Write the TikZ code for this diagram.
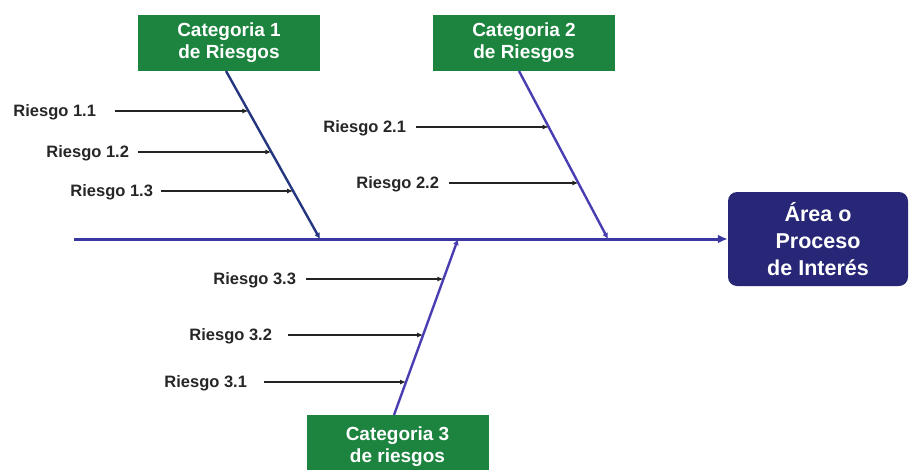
\documentclass[tikz,border=0pt]{standalone}
\usepackage{fontspec}
\setmainfont{Liberation Sans}
\usetikzlibrary{arrows.meta,calc}
\definecolor{catgreen}{RGB}{28,132,62}
\definecolor{navy}{RGB}{40,38,118}
\definecolor{spine}{RGB}{58,56,160}
\definecolor{diagA}{RGB}{36,54,128}
\definecolor{diagB}{RGB}{72,62,178}
\definecolor{riskline}{RGB}{35,35,35}
\tikzset{
  catbox/.style={fill=catgreen, draw=none, minimum width=182pt, minimum height=56pt, inner sep=0pt,
    text=white, font=\fontsize{19}{22}\selectfont\bfseries, align=center},
  areabox/.style={fill=navy, draw=none, rounded corners=9pt, minimum width=180pt, minimum height=94pt,
    inner sep=0pt, text=white, font=\fontsize{21.5}{27}\selectfont\bfseries, align=center},
  risk/.style={font=\fontsize{16.5}{18}\selectfont\bfseries, inner sep=0pt, outer sep=0pt, anchor=east,
    text=black!85, yshift=-1.7pt},
  riskarrow/.style={draw=riskline, line width=1.3pt, shorten <=10pt, -{Latex[length=6pt,width=5pt]}},
  bone/.style={line width=2.4pt, -{Latex[length=6pt,width=6pt]}},
}
\begin{document}
\begin{tikzpicture}[x=1pt,y=-1pt]
\useasboundingbox (0,0) rectangle (909,469);
\clip (0,0) rectangle (909,469);
% boxes
\node[catbox] (c1) at (229,43) {Categoria 1\\de Riesgos};
\node[catbox] (c2) at (524,43) {Categoria 2\\de Riesgos};
\node[catbox, minimum height=64pt] (c3) at (397.5,447) {Categoria 3\\de riesgos};
\node[areabox] (area) at (818,239) {Área o\\Proceso\\de Interés};
% spine
\coordinate (tail) at (74,239);
\coordinate (b1) at (320,239);
\coordinate (b2) at (608,239);
\coordinate (b3) at (458,239);
\coordinate (t1) at (226,71);
\coordinate (t2) at (519,71);
\coordinate (t3) at (394,415);
\draw[spine, line width=3pt, -{Latex[length=10pt,width=9pt]}] (tail) -- (area.west);
\draw[bone, diagA] (t1) -- (b1);
\draw[bone, diagB] (t2) -- (b2);
\draw[bone, diagB] (t3) -- (b3);
% points on bones
\coordinate (p11) at ($(t1)!{40/168}!(b1)$);
\coordinate (p12) at ($(t1)!{81/168}!(b1)$);
\coordinate (p13) at ($(t1)!{120/168}!(b1)$);
\coordinate (p21) at ($(t2)!{56/168}!(b2)$);
\coordinate (p22) at ($(t2)!{112/168}!(b2)$);
\coordinate (p33) at ($(t3)!{136/176}!(b3)$);
\coordinate (p32) at ($(t3)!{80/176}!(b3)$);
\coordinate (p31) at ($(t3)!{33/176}!(b3)$);
% risk labels
\node[risk] (r11) at (96,111) {Riesgo 1.1};
\node[risk] (r12) at (129,152) {Riesgo 1.2};
\node[risk] (r13) at (153,191) {Riesgo 1.3};
\node[risk] (r21) at (406,127) {Riesgo 2.1};
\node[risk] (r22) at (439,183) {Riesgo 2.2};
\node[risk] (r33) at (296,279) {Riesgo 3.3};
\node[risk] (r32) at (272,335) {Riesgo 3.2};
\node[risk] (r31) at (247,382) {Riesgo 3.1};
\draw[riskarrow, shorten <=19pt] (r11.east |- p11) -- (p11);
\draw[riskarrow, shorten <=9pt] (r12.east |- p12) -- (p12);
\draw[riskarrow, shorten <=8pt] (r13.east |- p13) -- (p13);
\draw[riskarrow] (r21.east |- p21) -- (p21);
\draw[riskarrow] (r22.east |- p22) -- (p22);
\draw[riskarrow] (r33.east |- p33) -- (p33);
\draw[riskarrow, shorten <=16pt] (r32.east |- p32) -- (p32);
\draw[riskarrow, shorten <=17pt] (r31.east |- p31) -- (p31);
\end{tikzpicture}
\end{document}
